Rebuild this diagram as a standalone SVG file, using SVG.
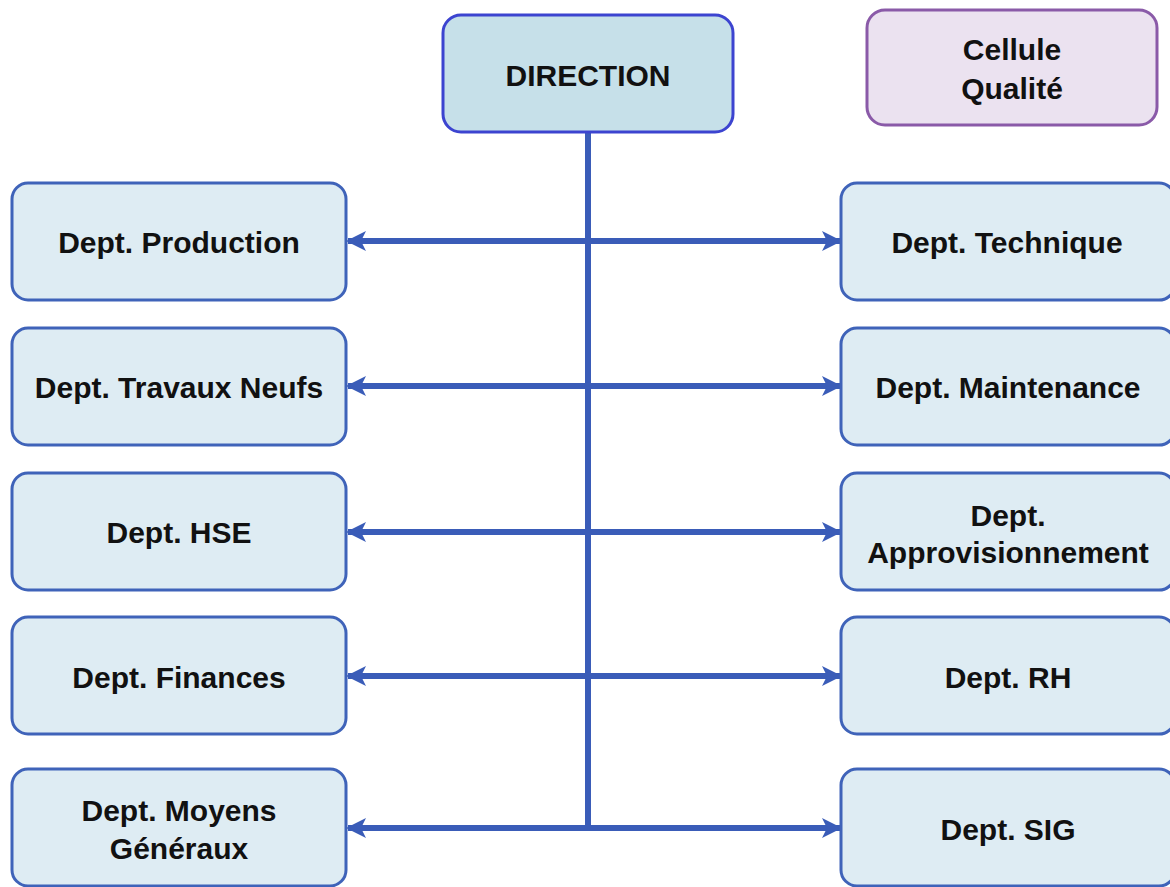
<svg xmlns="http://www.w3.org/2000/svg" width="1170" height="887" viewBox="0 0 1170 887">
<style>
.dept{fill:#deecf3;stroke:#3f63b9;stroke-width:3}
.t{font-family:"Liberation Sans",Arial,sans-serif;font-weight:bold;font-size:30px;fill:#111;text-anchor:middle;dominant-baseline:central}
.c{stroke:#3a5cb8;stroke-width:6;fill:none}
</style>
<defs>
<marker id="ah" viewBox="0 0 20 20" refX="18" refY="10" markerWidth="20" markerHeight="20" markerUnits="userSpaceOnUse" orient="auto-start-reverse">
<path d="M0,0 L20,10 L0,20 L5,10 Z" fill="#3a5cb8"/>
</marker>
</defs>
<rect width="1170" height="887" fill="#fff"/>
<g id="connectors">
<line class="c" x1="588" y1="132" x2="588" y2="831"/>
<line class="c" x1="348" y1="241" x2="840" y2="241" marker-start="url(#ah)" marker-end="url(#ah)"/>
<line class="c" x1="348" y1="386" x2="840" y2="386" marker-start="url(#ah)" marker-end="url(#ah)"/>
<line class="c" x1="348" y1="532" x2="840" y2="532" marker-start="url(#ah)" marker-end="url(#ah)"/>
<line class="c" x1="348" y1="676" x2="840" y2="676" marker-start="url(#ah)" marker-end="url(#ah)"/>
<line class="c" x1="348" y1="828" x2="840" y2="828" marker-start="url(#ah)" marker-end="url(#ah)"/>
</g>
<g id="direction">
<rect x="443" y="15" width="290" height="117" rx="18" fill="#c6e0e9" stroke="#3c44d0" stroke-width="3"/>
<text class="t" x="588" y="75">DIRECTION</text>
</g>
<g id="qualite">
<rect x="867" y="10" width="290" height="115" rx="18" fill="#ebe2f0" stroke="#8a5aa8" stroke-width="3"/>
<text class="t" x="1012" y="49">Cellule</text>
<text class="t" x="1012" y="88">Qualité</text>
</g>
<g id="production">
<rect class="dept" x="12" y="183" width="334" height="117" rx="16"/>
<text class="t" x="179" y="242">Dept. Production</text>
</g>
<g id="travaux">
<rect class="dept" x="12" y="328" width="334" height="117" rx="16"/>
<text class="t" x="179" y="387">Dept. Travaux Neufs</text>
</g>
<g id="hse">
<rect class="dept" x="12" y="473" width="334" height="117" rx="16"/>
<text class="t" x="179" y="532">Dept. HSE</text>
</g>
<g id="finances">
<rect class="dept" x="12" y="617" width="334" height="117" rx="16"/>
<text class="t" x="179" y="677">Dept. Finances</text>
</g>
<g id="moyens">
<rect class="dept" x="12" y="769" width="334" height="117" rx="16"/>
<text class="t" x="179" y="810">Dept. Moyens</text>
<text class="t" x="179" y="848">Généraux</text>
</g>
<g id="technique">
<rect class="dept" x="841" y="183" width="334" height="117" rx="16"/>
<text class="t" x="1007" y="242">Dept. Technique</text>
</g>
<g id="maintenance">
<rect class="dept" x="841" y="328" width="334" height="117" rx="16"/>
<text class="t" x="1008" y="387">Dept. Maintenance</text>
</g>
<g id="appro">
<rect class="dept" x="841" y="473" width="334" height="117" rx="16"/>
<text class="t" x="1008" y="515">Dept.</text>
<text class="t" x="1008" y="552">Approvisionnement</text>
</g>
<g id="rh">
<rect class="dept" x="841" y="617" width="334" height="117" rx="16"/>
<text class="t" x="1008" y="677">Dept. RH</text>
</g>
<g id="sig">
<rect class="dept" x="841" y="769" width="334" height="117" rx="16"/>
<text class="t" x="1008" y="829">Dept. SIG</text>
</g>
</svg>
